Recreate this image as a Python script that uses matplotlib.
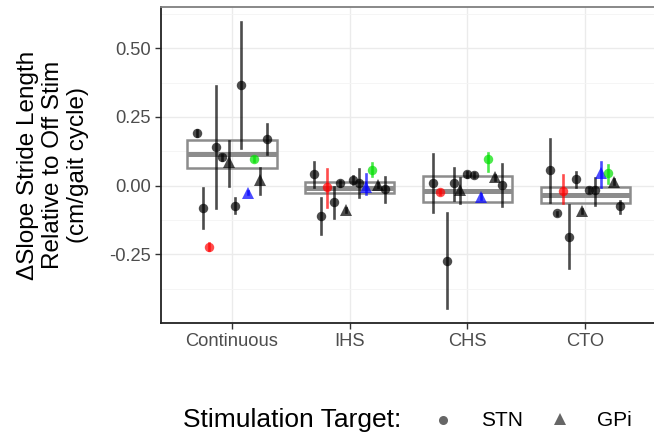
import matplotlib
matplotlib.use("Agg")
import matplotlib.pyplot as plt
from matplotlib.lines import Line2D
from matplotlib.patches import Rectangle

plt.rcParams['font.family'] = ['Liberation Sans', 'DejaVu Sans']

categories = ["Continuous", "IHS", "CHS", "CTO"]

# per point: value, error low, error high, shape (o = STN, ^ = GPi), colour key
cont_val = [0.191, -0.080, -0.222, 0.140, 0.103, 0.087, -0.074, 0.368, -0.025, 0.097, 0.021, 0.170]
cont_lo = [0.181, -0.153, -0.235, -0.082, 0.093, 0.000, -0.100, 0.138, -0.030, 0.090, -0.030, 0.115]
cont_hi = [0.201, -0.009, -0.209, 0.363, 0.113, 0.163, -0.045, 0.596, -0.020, 0.104, 0.066, 0.225]
cont_shape = ["o", "o", "o", "o", "o", "^", "o", "o", "^", "o", "^", "o"]
cont_col = ["k", "k", "r", "k", "k", "k", "k", "k", "b", "g", "k", "k"]

ihs_val = [0.043, -0.110, -0.004, -0.058, 0.009, -0.088, 0.021, 0.009, -0.004, 0.057, 0.003, -0.012]
ihs_lo = [-0.004, -0.176, -0.076, -0.119, 0.000, -0.095, 0.005, -0.042, -0.030, 0.034, -0.005, -0.058]
ihs_hi = [0.087, -0.046, 0.060, -0.004, 0.018, -0.081, 0.037, 0.060, 0.043, 0.082, 0.011, 0.031]
ihs_shape = ["o", "o", "o", "o", "o", "^", "o", "o", "^", "o", "^", "o"]
ihs_col = ["k", "k", "r", "k", "k", "k", "k", "k", "b", "g", "k", "k"]

chs_val = [0.011, -0.022, -0.273, 0.011, -0.016, 0.041, 0.039, -0.040, 0.097, 0.030, 0.003]
chs_lo = [-0.095, -0.030, -0.446, -0.052, -0.064, 0.033, 0.031, -0.048, 0.052, 0.022, -0.073]
chs_hi = [0.115, -0.014, -0.098, 0.063, 0.027, 0.049, 0.047, -0.032, 0.118, 0.038, 0.079]
chs_shape = ["o", "o", "o", "o", "^", "o", "o", "^", "o", "^", "o"]
chs_col = ["k", "r", "k", "k", "k", "k", "k", "b", "g", "k", "k"]

cto_val = [0.057, -0.101, -0.018, -0.186, 0.023, -0.092, -0.016, -0.016, 0.045, 0.045, 0.015, -0.074]
cto_lo = [-0.058, -0.108, -0.063, -0.301, -0.006, -0.100, -0.024, -0.070, -0.004, 0.011, 0.007, -0.100]
cto_hi = [0.169, -0.094, 0.040, -0.070, 0.051, -0.084, -0.008, 0.027, 0.087, 0.075, 0.023, -0.055]
cto_shape = ["o", "o", "o", "o", "o", "^", "o", "o", "^", "o", "^", "o"]
cto_col = ["k", "k", "r", "k", "k", "k", "k", "k", "b", "g", "k", "k"]

# box: lower quartile, median, upper quartile
box_q1 = [0.063, -0.028, -0.058, -0.064]
box_med = [0.115, -0.010, -0.018, -0.033]
box_q3 = [0.166, 0.015, 0.035, -0.004]

colours = {"k": "black", "r": "#FF0000", "g": "#00E000", "b": "#0000FF"}

fig = plt.figure(figsize=(6.54, 4.40), dpi=100)
ax = fig.add_axes([0.2462, 0.267, 0.7569, 0.716])

groups = [
    (cont_val, cont_lo, cont_hi, cont_shape, cont_col),
    (ihs_val, ihs_lo, ihs_hi, ihs_shape, ihs_col),
    (chs_val, chs_lo, chs_hi, chs_shape, chs_col),
    (cto_val, cto_lo, cto_hi, cto_shape, cto_col),
]

dodge = 0.65
box_w = 0.76
box_c = "#8C8C8C"

for g, (vals, lo, hi, shp, col) in enumerate(groups):
    center = g + 1
    ax.add_patch(Rectangle((center - box_w / 2, box_q1[g]), box_w, box_q3[g] - box_q1[g],
                           fill=False, edgecolor=box_c, lw=1.8, zorder=2))
    ax.plot([center - box_w / 2, center + box_w / 2], [box_med[g], box_med[g]],
            color=box_c, lw=3.6, solid_capstyle="butt", zorder=2)
    n = len(vals)
    for i in range(n):
        x = center + (i - (n - 1) / 2) * dodge / n
        c = colours[col[i]]
        ax.plot([x, x], [lo[i], hi[i]], color=c, alpha=0.7, lw=1.9, zorder=3)
        ms = 6.8 if shp[i] == "o" else 8.3
        ax.plot([x], [vals[i]], marker=shp[i], color=c, alpha=0.7, ms=ms,
                markeredgewidth=0, linestyle="none", zorder=4)

ax.set_xlim(0.4, 4.6)
ax.set_ylim(-0.498, 0.6485)
ax.set_xticks([1, 2, 3, 4])
ax.set_xticklabels(categories)
ax.set_yticks([-0.25, 0.0, 0.25, 0.5])
ax.set_yticklabels(["-0.25", "0.00", "0.25", "0.50"])
ax.set_yticks([-0.375, -0.125, 0.125, 0.375, 0.625], minor=True)

ax.grid(True, which="major", color="#EBEBEB", lw=1.0, zorder=0)
ax.grid(True, which="minor", axis="y", color="#F4F4F4", lw=0.6, zorder=0)
ax.set_axisbelow(True)

ax.tick_params(axis="both", which="major", labelsize=13.2, labelcolor="#4D4D4D",
               color="#333333", length=4, width=1.0)
ax.tick_params(axis="y", which="minor", length=0)

for side in ["left", "bottom"]:
    ax.spines[side].set_color("#222222")
    ax.spines[side].set_linewidth(1.3)
ax.spines["top"].set_color("#7F7F7F")
ax.spines["top"].set_linewidth(1.3)
ax.spines["right"].set_visible(False)

fig.text(0.081, 0.625, "\u0394Slope Stride Length\nRelative to Off Stim\n(cm/gait cycle)",
         rotation=90, ha="center", va="center", multialignment="center",
         fontsize=17.5, color="black")

# legend
fig.text(183 / 654, 0.045, "Stimulation Target:", fontsize=19, ha="left", va="center")
fig.add_artist(Line2D([443 / 654], [0.045], marker="o", color="#666666", ms=6.5,
                      markeredgewidth=0, linestyle="none", transform=fig.transFigure))
fig.text(481 / 654, 0.045, "STN", fontsize=15, ha="left", va="center")
fig.add_artist(Line2D([560 / 654], [0.047], marker="^", color="#666666", ms=8,
                      markeredgewidth=0, linestyle="none", transform=fig.transFigure))
fig.text(597 / 654, 0.045, "GPi", fontsize=15, ha="left", va="center")

fig.savefig("out.png", dpi=100)
